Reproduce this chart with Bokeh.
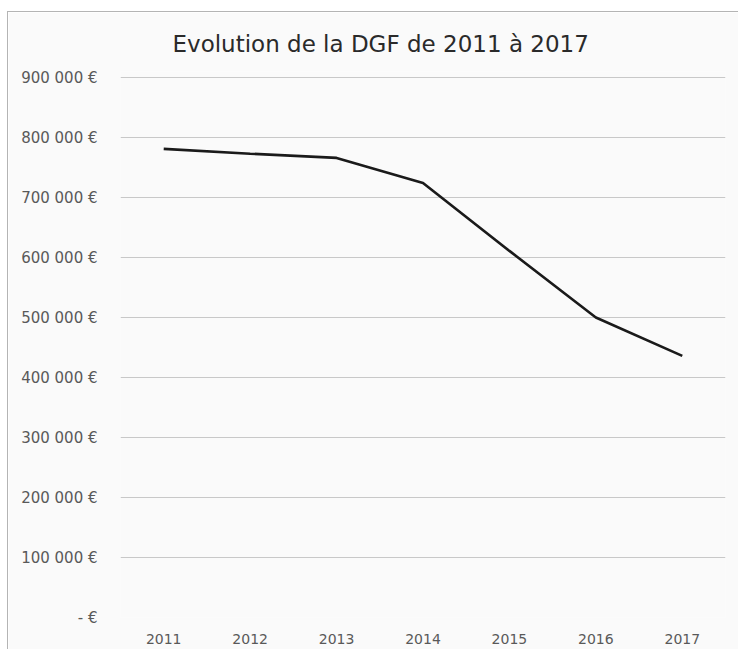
from bokeh.plotting import figure
from bokeh.embed import file_html
from bokeh.resources import INLINE
from bokeh.models import FixedTicker, ColumnDataSource

years = ["2011", "2012", "2013", "2014", "2015", "2016", "2017"]
dgf = [781000, 773000, 766000, 724000, 611000, 500000, 436000]
y_ticks = [0, 100000, 200000, 300000, 400000, 500000, 600000, 700000, 800000, 900000]
y_labels = ["- €", "100 000 €", "200 000 €", "300 000 €", "400 000 €",
            "500 000 €", "600 000 €", "700 000 €", "800 000 €", "900 000 €"]
title_text = "Evolution de la DGF de 2011 à 2017"

FONT = "DejaVu Sans"
TXT = "#595959"

p = figure(width=731, height=638, x_range=years, y_range=(0, 910000),
           output_backend="svg", toolbar_location=None,
           min_border_left=112, min_border_right=14,
           min_border_top=59, min_border_bottom=33)
p.styles = {"margin-left": "7px", "margin-top": "11px",
            "border-left": "1px solid #b4b4b4", "border-top": "1px solid #b4b4b4"}

p.title.text = title_text
p.title.align = "left"
p.title.offset = 52
p.title.text_font = FONT
p.title.text_font_size = "23px"
p.title.text_font_style = "normal"
p.title.text_color = "#2a2a2a"
p.title.standoff = 29

p.background_fill_color = "#fafafa"
p.border_fill_color = "#fafafa"
p.outline_line_color = None

src = ColumnDataSource(dict(x=years, y=dgf))
p.line("x", "y", source=src, line_color="#1a1a1a", line_width=2.6)

p.yaxis.ticker = FixedTicker(ticks=y_ticks)
p.yaxis.major_label_overrides = {t: l for t, l in zip(y_ticks, y_labels)}
for ax in (p.xaxis, p.yaxis):
    ax.axis_line_color = None
    ax.major_tick_line_color = None
    ax.minor_tick_line_color = None
    ax.major_label_text_font = FONT
    ax.major_label_text_color = TXT
p.yaxis.major_label_text_font_size = "15px"
p.xaxis.major_label_text_font_size = "14px"
p.yaxis.major_label_standoff = 17
p.xaxis.major_label_standoff = 10

p.xgrid.grid_line_color = None
p.ygrid.grid_line_color = "#c8c8c8"
p.ygrid.grid_line_width = 1

p.x_range.range_padding = 0

open("out.html", "w").write(file_html(p, INLINE))
